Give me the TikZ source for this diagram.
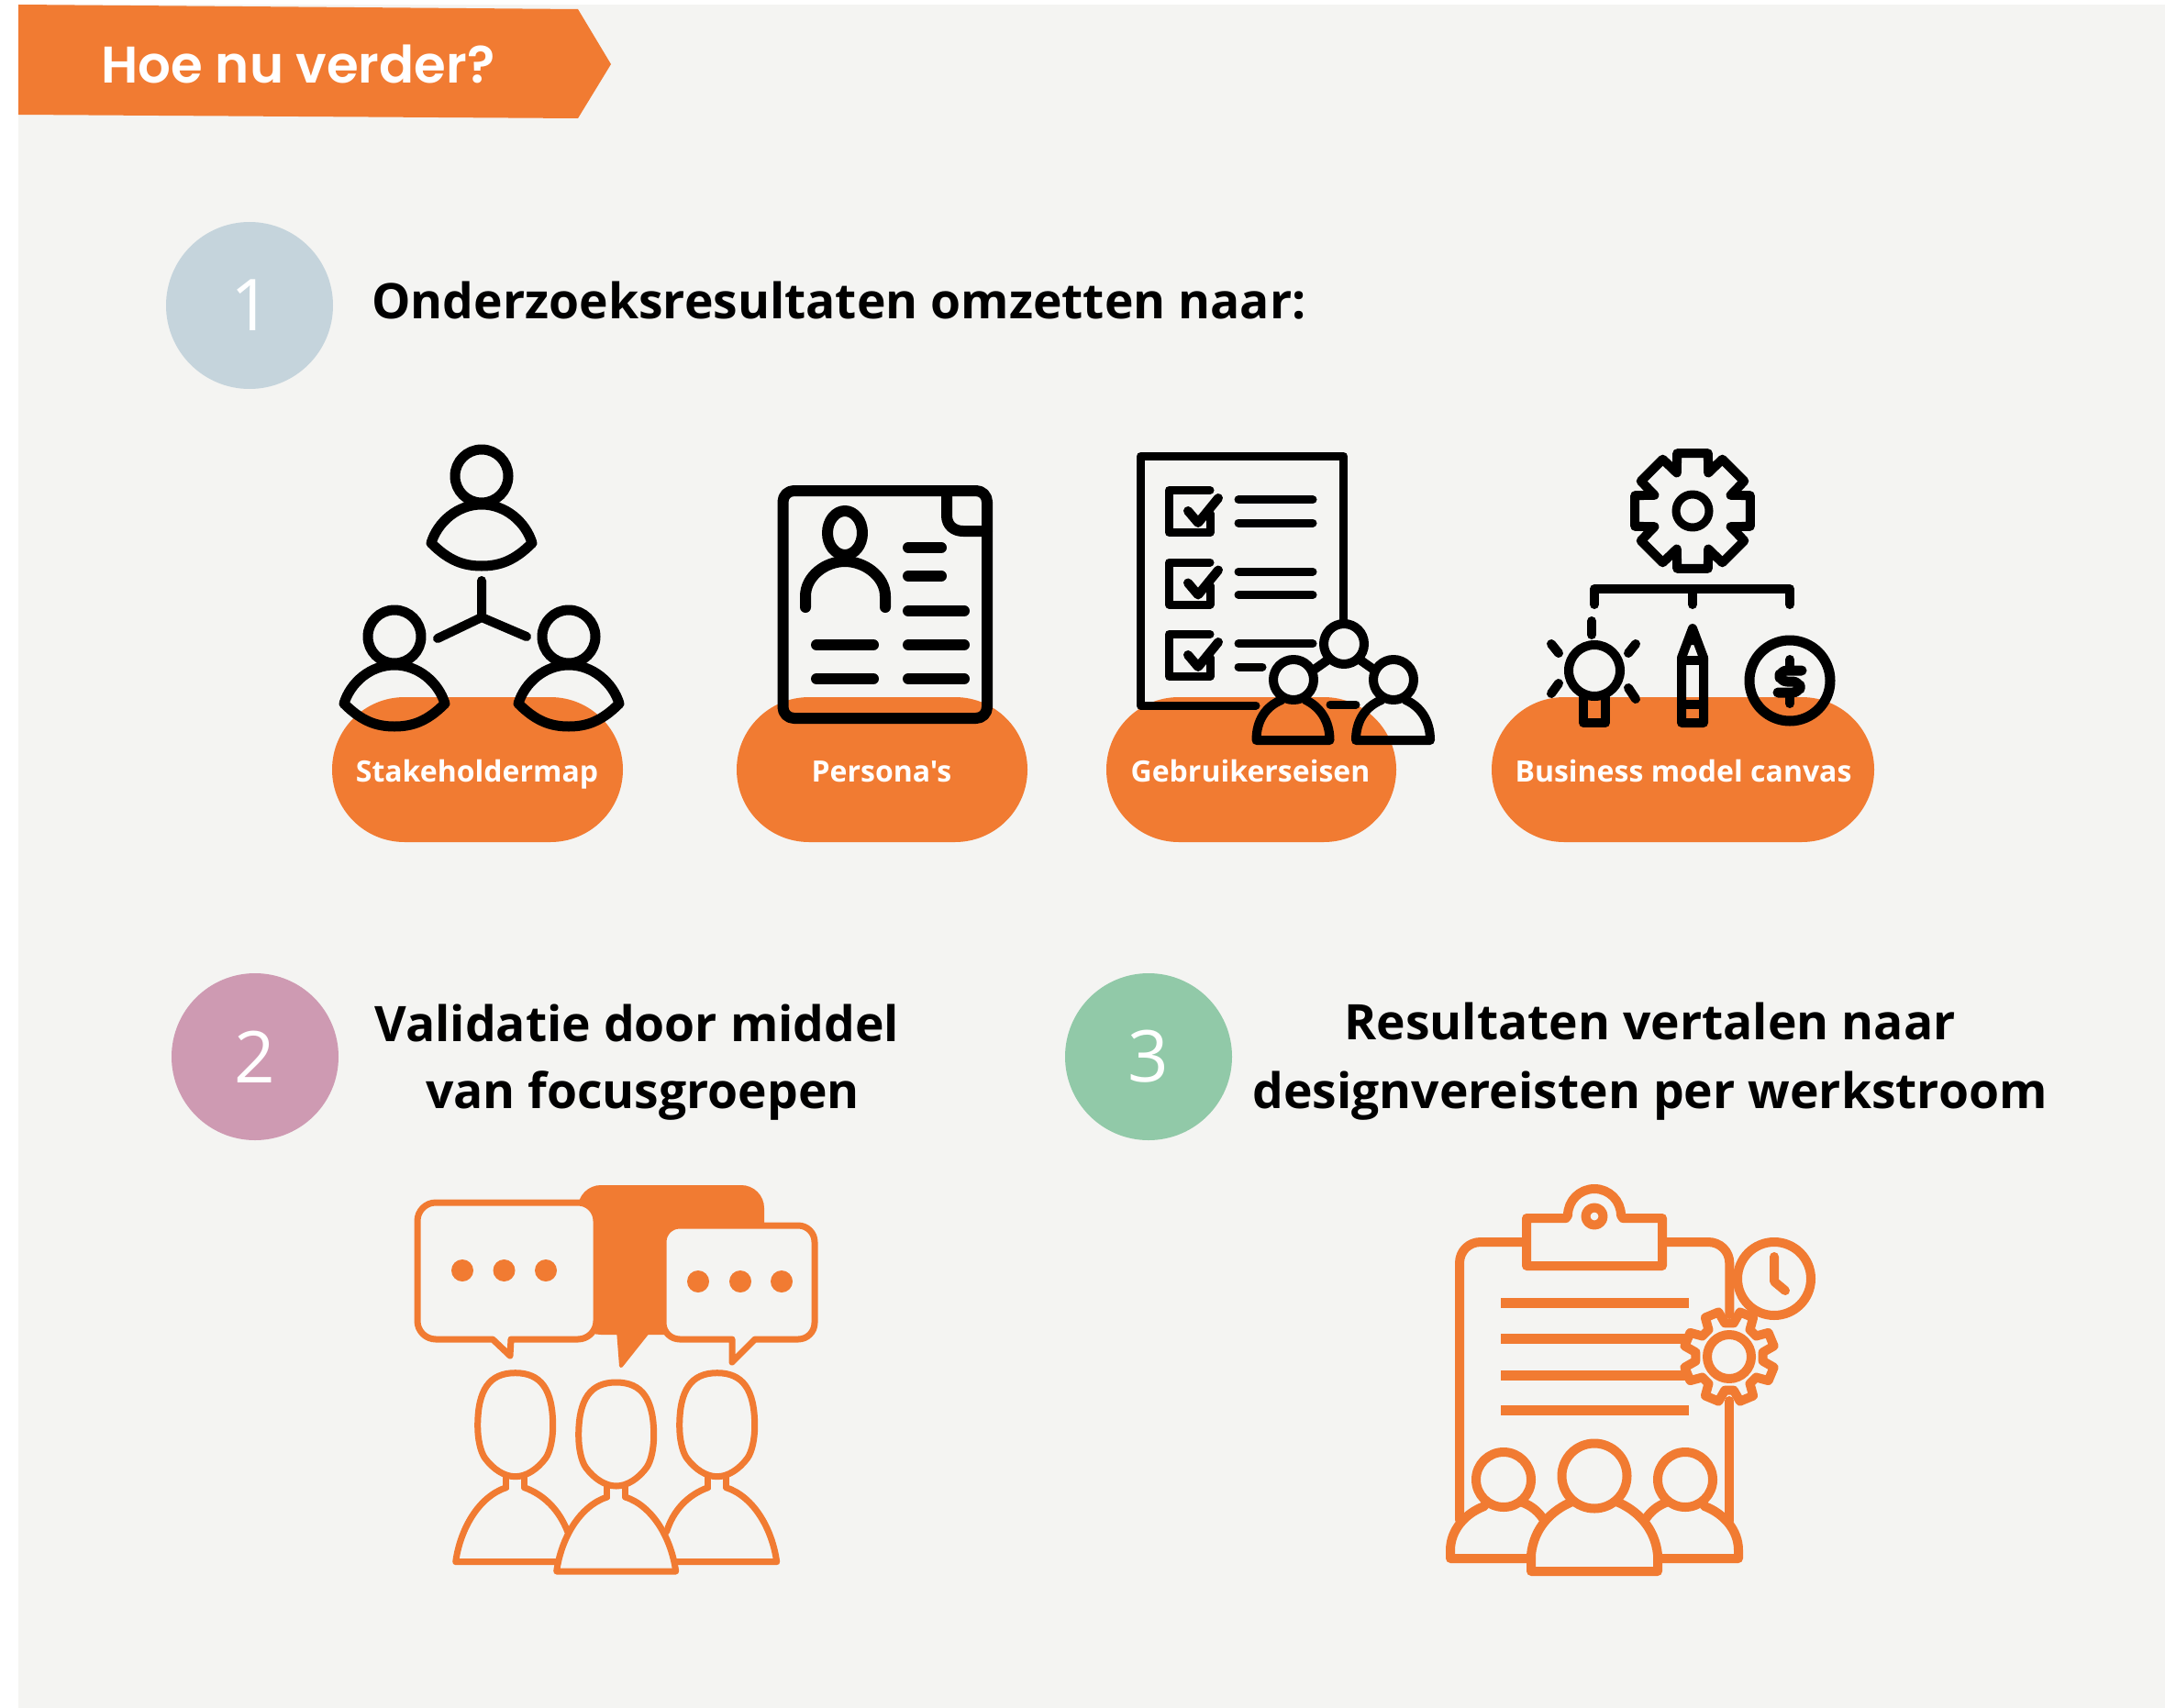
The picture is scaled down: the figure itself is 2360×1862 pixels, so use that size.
\documentclass[tikz,border=0pt]{standalone}
\usepackage{fontspec}
\setmainfont{Open Sans}[Ligatures=TeXOff]
\newfontfamily\poppinsf{Poppins SemiBold}
\definecolor{org}{HTML}{F17B32}
\definecolor{bg}{HTML}{F4F4F2}
\definecolor{cA}{HTML}{C5D4DC}
\definecolor{cB}{HTML}{CE9AB2}
\definecolor{cC}{HTML}{91C9A8}
\newcommand{\fsz}[1]{\fontsize{#1}{#1}\selectfont}
\tikzset{
  x=0.5pt,y=-0.5pt,
  pill/.style={fill=org,draw=none,rounded corners=39.5pt},
  lbl/.style={anchor=base,text=white,font=\bfseries\fsz{16},inner sep=0pt},
  hd/.style={anchor=base,text=black,font=\bfseries\fsz{26.7},inner sep=0pt},
  num/.style={text=white,font=\fsz{39},inner sep=0pt},
  blk/.style={draw=black,line width=5pt,line cap=round,line join=round},
  blkn/.style={blk,line width=4.5pt},
  blkw/.style={blk,line width=6pt},
  ora/.style={draw=org,line width=3.5pt,line cap=round,line join=round},
  orb/.style={draw=org,line width=5pt,line cap=round,line join=round},
  orbar/.style={draw=org,line width=5.5pt,line cap=butt},
}
\newcommand{\stakeperson}[2]{%
  \begin{scope}[shift={(#1,#2)}]
    \draw[blk,line width=5.5pt] (0,0) circle[x radius=29,y radius=29];
    \draw[blk,line width=5.5pt] (-55,73) .. controls (-48,50) and (-26,31) .. (0,31) .. controls (26,31) and (48,50) .. (55,73) .. controls (36,92) and (20,98) .. (0,98) .. controls (-20,98) and (-36,92) .. (-55,73) -- cycle;
  \end{scope}}
\newcommand{\fghead}[2]{%
  \begin{scope}[shift={(#1,#2)}]
    \draw[ora] (0,0) .. controls (-28,0) and (-41,18) .. (-41,58) .. controls (-41,72) and (-38,86) .. (-33,93) .. controls (-24,105) and (-12,113) .. (0,113) .. controls (12,113) and (24,105) .. (33,93) .. controls (38,86) and (41,72) .. (41,58) .. controls (41,18) and (28,0) .. (0,0) -- cycle;
    \draw[ora] (-10,113) -- (-10,125);
    \draw[ora] (10,113) -- (10,125);
  \end{scope}}
\newcommand{\checkrow}[1]{%
  \begin{scope}[yshift=#1*-0.5pt]
    \draw[blkn] (1319,534.5) -- (1274.5,534.5) -- (1274.5,580.5) -- (1319,580.5) -- (1319,560);
    \draw[blk] (1295,557) -- (1306,570) -- (1328,543);
  \end{scope}}
\begin{document}
\begin{tikzpicture}
\useasboundingbox (0,0) rectangle (2360,1862);
\fill[white] (0,0) rectangle (2360,1862);
\fill[bg] (20,5) rectangle (2360,1862);
% banner
\fill[org] (20,5) -- (630,10) -- (666,70) -- (630,129) -- (20,125) -- cycle;
\node[anchor=base,text=white,font=\poppinsf\fsz{28.1},inner sep=0pt] (title) at (325,90.5) {Hoe nu verder?};
% numbered circles
\fill[cA] (272,333) circle[radius=91];
\node[num] (n1) at (274,333) {1};
\fill[cB] (278,1152) circle[radius=91];
\node[num] (n2) at (278,1152) {2};
\fill[cC] (1252,1152) circle[radius=91];
\node[num] (n3) at (1252,1152) {3};
% headings
\node[hd,anchor=base west] (h1) at (405,347) {Onderzoeksresultaten omzetten naar:};
\node[hd] (h2a) at (694.5,1135) {Validatie door middel};
\node[hd] (h2b) at (700.5,1208) {van focusgroepen};
\node[hd] (h3a) at (1798.5,1133.5) {Resultaten vertalen naar};
\node[hd] (h3b) at (1798.5,1208) {designvereisten per werkstroom};
% pills
\fill[pill] (362,760) rectangle (679,918);
\fill[pill] (803,760) rectangle (1120,918);
\fill[pill] (1206,760) rectangle (1522,918);
\fill[pill] (1626,760) rectangle (2043,918);
\node[lbl] (l1) at (520,852) {Stakeholdermap};
\node[lbl] (l2) at (961,852) {Persona's};
\node[lbl] (l3) at (1363,852) {Gebruikerseisen};
\node[lbl] (l4) at (1835,852) {Business model canvas};
% icon 1
\stakeperson{525}{519}
\stakeperson{430}{694}
\stakeperson{620}{694}
\coordinate (yc) at (525,673);
\coordinate (ya) at (525,633);
\coordinate (yb) at (477,696);
\coordinate (yd) at (574,694);
\draw[blk] (ya) -- (yc) (yb) -- (yc) -- (yd);
% icon 2
\draw[blkw,rounded corners=6pt] (853.5,535) rectangle (1076,783);
\draw[blkw] (1032,540) -- (1032,562) .. controls (1032,573) and (1040,579) .. (1050,579) -- (1076,579);
\draw[blkw] (921,581) ellipse[x radius=19,y radius=24];
\draw[blkw] (878,662) -- (878,650) .. controls (878,628) and (900,612) .. (921,612) .. controls (942,612) and (965,628) .. (965,650) -- (965,662);
\foreach \a/\b/\c in {990/1026/597,990/1026/628,990/1051/666,990/1051/703,990/1051/740,890/952/703,890/952/740}
  \draw[blkw] (\a,\c) -- (\b,\c);
% icon 3
\draw[blkn] (1369,769) -- (1243.5,769) -- (1243.5,497.5) -- (1464.5,497.5) -- (1464.5,677);
\draw[blkn] (1450,768) -- (1478,768);
\checkrow{0}
\checkrow{78.5}
\checkrow{157}
\foreach \y in {0,78.5}{
  \draw[blkn] (1350,544.7+\y) -- (1431,544.7+\y);
  \draw[blkn] (1350,570+\y) -- (1431,570+\y);}
\draw[blkn] (1350,701.7) -- (1431,701.7);
\draw[blkn] (1350,727) -- (1376,727);
\draw[blk] (1465,702) circle[radius=22];
\draw[blk] (1410,741) circle[radius=22];
\draw[blk] (1519,741) circle[radius=22];
\draw[blk] (1448,719) -- (1431,731);
\draw[blk] (1482,719) -- (1499,731);
\draw[blk] (1397,763) .. controls (1380,770) and (1369.5,785) .. (1369.5,807) -- (1449.5,807) .. controls (1449.5,785) and (1438,770) .. (1423,763);
\draw[blk] (1506,763) .. controls (1489,770) and (1478,785) .. (1478,807) -- (1559,807) .. controls (1559,785) and (1548,770) .. (1532,763);
% icon 4
\begin{scope}[shift={(1845,557)}]
  \draw[blkn] (0,0) circle[radius=18];
  \draw[blk] (-15:65) \foreach \a in {0,45,...,315}{ -- (\a-15:65) -- (\a+15:65) -- (\a+22.5:45)} -- cycle;
\end{scope}
\draw[blk] (1738,659) -- (1738,642) -- (1951,642) -- (1951,659);
\draw[blk] (1845,642) -- (1845,659);
\draw[blk] (1738,731) circle[radius=28];
\draw[blk] (1726,760) -- (1726,788) -- (1750,788) -- (1750,760);
\draw[blk] (1735,677) -- (1735,692);
\draw[blk] (1691,702) -- (1699,712);
\draw[blk] (1783,702) -- (1775,712);
\draw[blk] (1699,745) -- (1691,756);
\draw[blk] (1775,750) -- (1783,762);
\draw[blk] (1833,788) -- (1833,717) -- (1845,685) -- (1857,717) -- (1857,788) -- cycle;
\fill (1838,703) -- (1845,681) -- (1852,703) -- cycle;
\draw[blk] (1833,720) -- (1857,720);
\draw[blk] (1833,768) -- (1857,768);
\draw[blk,line width=5.5pt] (1951,742) circle[radius=44];
\draw[blk,line width=5.5pt,rounded corners=4pt] (1964,731) -- (1940,731) -- (1940,743) -- (1962,743) -- (1962,755) -- (1938,755);
\draw[blk] (1951,719) -- (1951,726);
\draw[blk] (1951,760) -- (1951,767);
% icon 5
\fill[org,rounded corners=12.5pt] (630,1292) rectangle (833,1455);
\filldraw[org,line width=2pt,line join=round] (674,1450) -- (677,1489) -- (708,1450) -- cycle;
\draw[ora,fill=bg] (630,1460) -- (557,1460) -- (556,1478) -- (537,1460) -- (475,1460) .. controls (464,1460) and (455,1451) .. (455,1440) -- (455,1331) .. controls (455,1320) and (464,1311) .. (475,1311) -- (630,1311) .. controls (641,1311) and (650,1320) .. (650,1331) -- (650,1440) .. controls (650,1451) and (641,1460) .. (630,1460) -- cycle;
\draw[ora,fill=bg] (823,1460) -- (798,1485) -- (798,1460) -- (741,1460) .. controls (731,1460) and (723,1452) .. (723,1442) -- (723,1354) .. controls (723,1344) and (731,1336) .. (741,1336) -- (870,1336) .. controls (880,1336) and (888,1344) .. (888,1354) -- (888,1442) .. controls (888,1452) and (880,1460) .. (870,1460) -- cycle;
\foreach \x in {504,549.5,595} \fill[org] (\x,1385) circle[radius=12];
\foreach \x in {761,807,852} \fill[org] (\x,1397) circle[radius=12];
\fghead{561.7}{1496.7}
\fghead{671.7}{1507}
\fghead{781.7}{1496.7}
\begin{scope}[shift={(561.7,1496.7)}]
  \draw[ora] (-10,125) .. controls (-40,135) and (-60,170) .. (-65,206) -- (45,206);
  \draw[ora] (10,125) .. controls (32,133) and (48,150) .. (57,173);
\end{scope}
\begin{scope}[shift={(671.7,1507)}]
  \draw[ora] (-10,125) .. controls (-40,135) and (-60,170) .. (-65,206) -- (65,206) .. controls (60,170) and (40,135) .. (10,125);
\end{scope}
\begin{scope}[shift={(781.7,1496.7)}]
  \draw[ora] (10,125) .. controls (40,135) and (60,170) .. (65,206) -- (-45,206);
  \draw[ora] (-10,125) .. controls (-32,133) and (-48,150) .. (-55,173);
\end{scope}
% icon 6
\draw[orb] (1591,1657) -- (1591,1377) .. controls (1591,1364) and (1601,1354) .. (1614,1354) -- (1660,1354);
\draw[orb] (1817,1354) -- (1862,1354) .. controls (1875,1354) and (1885.3,1364) .. (1885.3,1377) -- (1885.3,1433);
\draw[orb] (1885.3,1527) -- (1885.3,1658);
\draw[orb] (1707,1328) -- (1664,1328) -- (1664,1380) -- (1812,1380) -- (1812,1328) -- (1769,1328) -- (1767,1325) arc[start angle=0,end angle=-180,radius=29] -- cycle;
\draw[orb] (1738,1326) circle[radius=9.5];
\foreach \y in {1420,1537} \draw[orbar] (1636,\y) -- (1841,\y);
\foreach \y in {1459,1499} \draw[orbar] (1636,\y) -- (1838,\y);
\begin{scope}[shift={(1885,1479)}]
  \draw[orb,fill=bg] (7.5:37) \foreach \a in {22.5,67.5,...,337.5}{ -- (\a-15:37) -- (\a-9:50) -- (\a+9:50) -- (\a+15:37)} -- cycle;
  \draw[orb] (0,0) circle[radius=24];
\end{scope}
\draw[orb,fill=bg] (1934,1394) circle[radius=40];
\draw[orb] (1934,1370) -- (1934,1397) -- (1946,1407);
\draw[orb] (1738,1609) circle[radius=35.5];
\draw[orb] (1639,1613) circle[radius=30];
\draw[orb] (1837,1613) circle[radius=30];
\draw[orb] (1714,1637) .. controls (1692,1646) and (1672,1665) .. (1669,1695) -- (1669,1713) -- (1807,1713) -- (1807,1695) .. controls (1804,1665) and (1784,1646) .. (1762,1637);
\draw[orb] (1618,1642) .. controls (1597,1650) and (1581,1668) .. (1581,1690) -- (1581,1699) -- (1669,1699);
\draw[orb] (1660,1638) .. controls (1670,1642) and (1677,1648) .. (1683,1657);
\draw[orb] (1858,1642) .. controls (1879,1650) and (1895,1668) .. (1895,1690) -- (1895,1699) -- (1807,1699);
\draw[orb] (1816,1638) .. controls (1806,1642) and (1799,1648) .. (1793,1657);
\end{tikzpicture}
\end{document}
